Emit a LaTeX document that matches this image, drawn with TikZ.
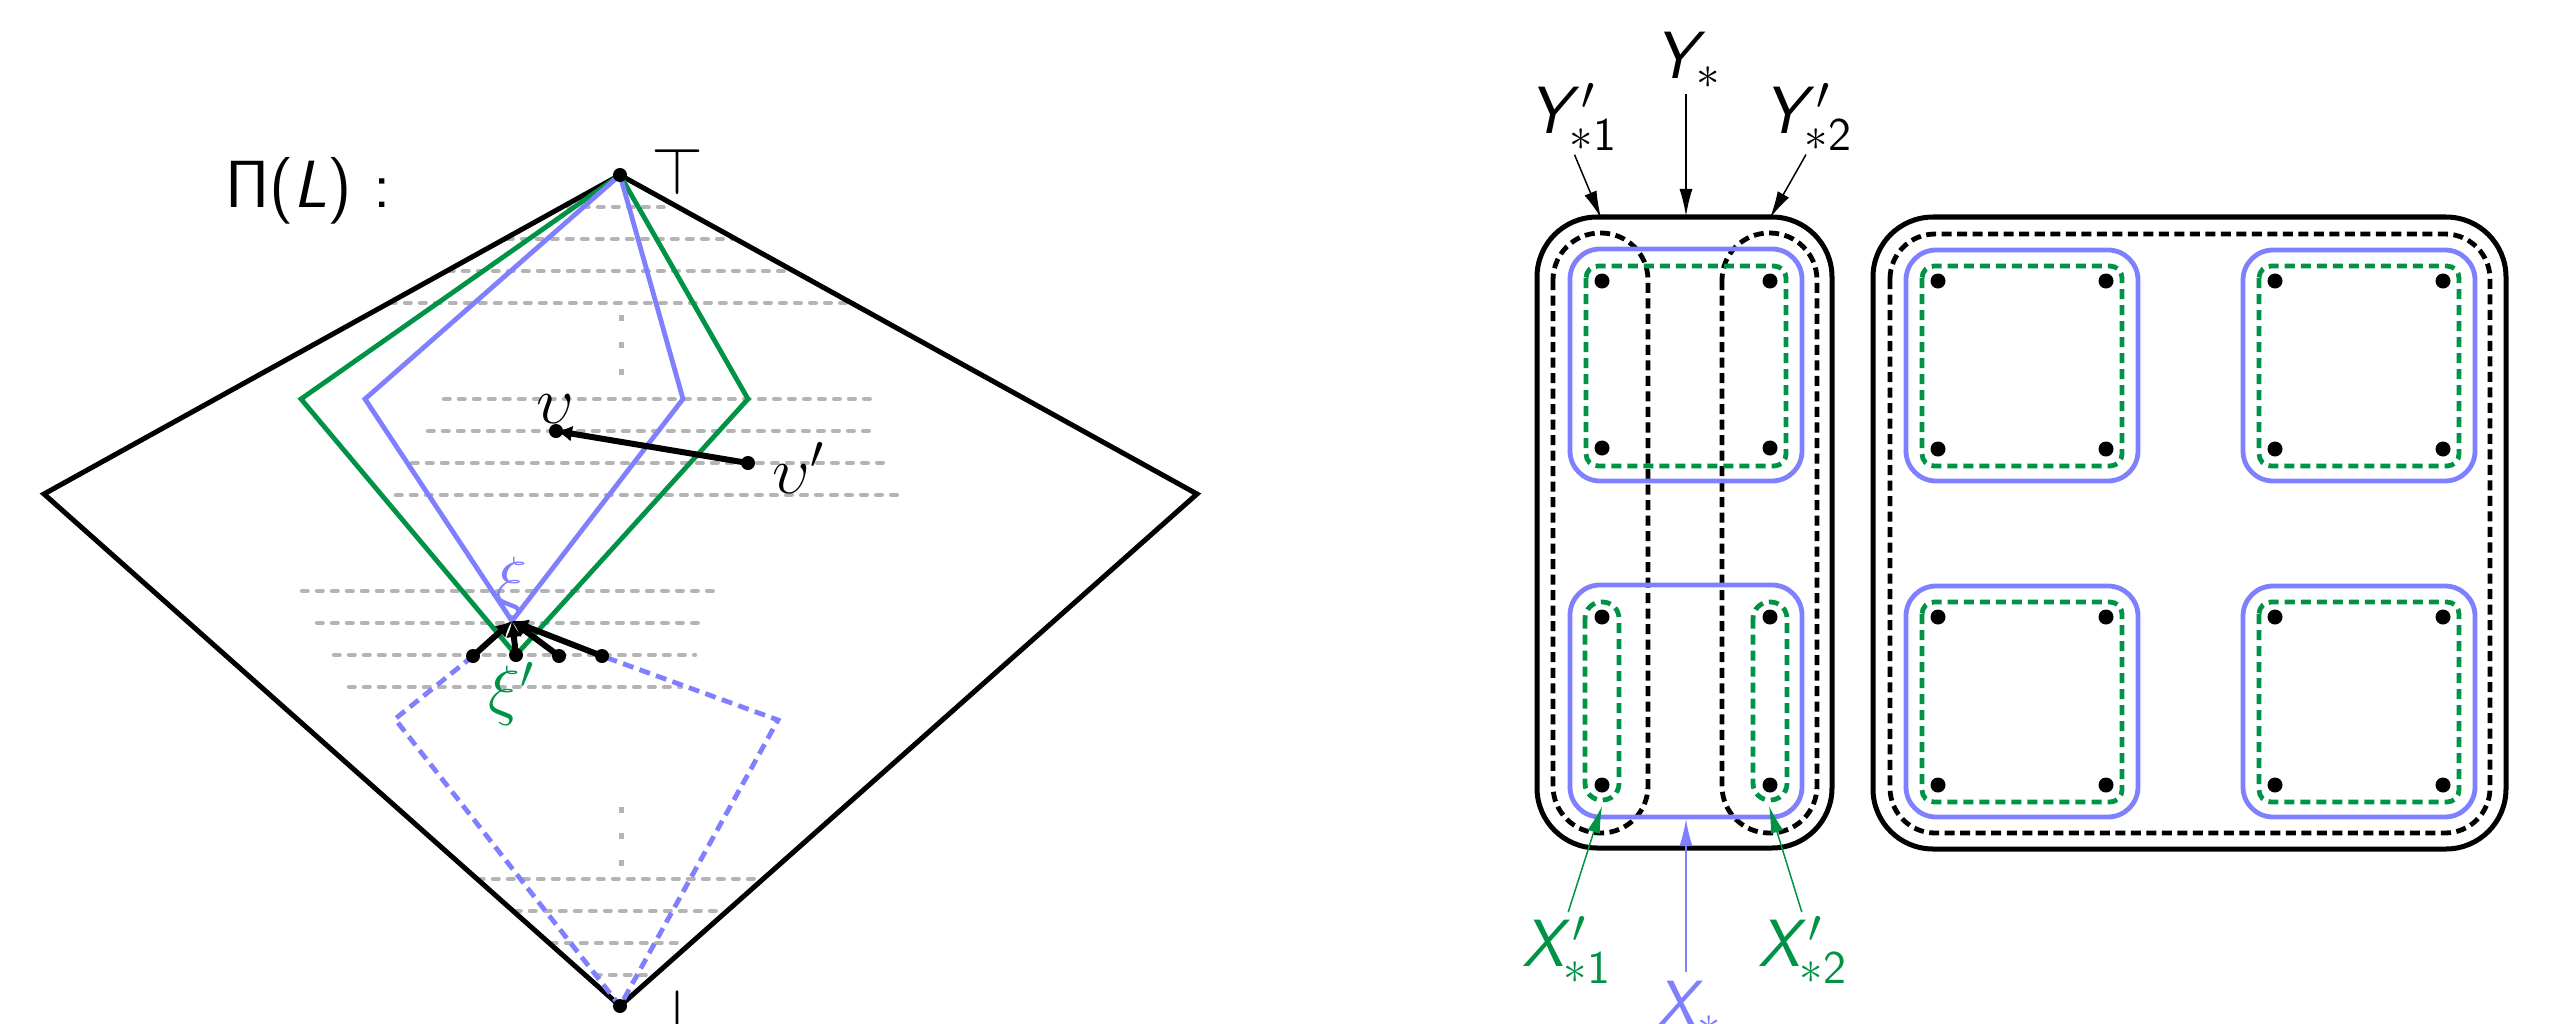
\RequirePackage{fix-cm}
\documentclass[tikz,border=0pt]{standalone}
\usetikzlibrary{arrows.meta}
\DeclareMathAlphabet{\mathsfit}{OT1}{cmss}{m}{sl}
\definecolor{myblue}{RGB}{128,128,255}
\definecolor{mygreen}{RGB}{0,146,69}
\definecolor{lgray}{RGB}{180,180,180}
\tikzset{
  lab/.style={inner sep=0pt, font=\fontsize{19}{23}\selectfont},
  gline/.style={draw=lgray, line width=0.045cm, line cap=round, dash pattern=on 0.055cm off 0.095cm},
  frame/.style={draw=black, line width=0.05cm},
  bsol/.style={draw=myblue, line width=0.048cm},
  gsol/.style={draw=mygreen, line width=0.048cm},
  bdash/.style={draw=myblue, line width=0.048cm, dash pattern=on 0.11cm off 0.065cm},
  kdash/.style={draw=black, line width=0.048cm, dash pattern=on 0.1cm off 0.055cm},
  gdash/.style={draw=mygreen, line width=0.048cm, dash pattern=on 0.1cm off 0.06cm},
  thickarr/.style={draw=black, line width=0.06cm, -{Latex[length=0.16cm,width=0.16cm]}},
  thinarr/.style={line width=0.015cm, -{Latex[length=0.27cm,width=0.13cm]}}
}
\begin{document}
\begin{tikzpicture}[x=0.01cm,y=-0.01cm]
\useasboundingbox (0,0) rectangle (2559,1024);

% ---------------- left diagram ----------------
\coordinate (T) at (620,175);
\coordinate (L) at (44,494);
\coordinate (B) at (620,1006);
\coordinate (R) at (1197,494);
\coordinate (gL) at (301,399);
\coordinate (gR) at (748,399);
\coordinate (xip) at (516,655);
\coordinate (bL) at (365,399);
\coordinate (bR) at (683,399);
\coordinate (xi) at (512,621);
\coordinate (dL) at (395,719);
\coordinate (dR) at (778,720);
\coordinate (p1) at (473,656);
\coordinate (p3) at (559,656);
\coordinate (p4) at (602,656);
\coordinate (v) at (556,431);
\coordinate (vp) at (748,463);

% gray levels
\foreach \y/\a/\b in {207/568/670, 239/507/733, 271/448/792, 303/390/850,
                      399/444/872, 431/428/872, 463/412/888, 495/396/904,
                      591/302/714, 623/317/704, 655/334/695, 687/349/681,
                      879/478/758, 911/515/725, 943/551/685, 975/595/652}
  \draw[gline] (\a,\y) -- (\b,\y);
\foreach \y in {318,345,372,810,836,863}
  \draw[lgray, line width=0.05cm] (621,\y-3) -- (621,\y+3);

\draw[frame] (T) -- (R) -- (B) -- (L) -- cycle;
\draw[bdash] (p1) -- (dL) -- (B) -- (dR) -- (p4);
\draw[gsol] (T) -- (gL) -- (xip) -- (gR) -- cycle;
\draw[bsol] (T) -- (bL) -- (xi) -- (bR) -- cycle;

\draw[thickarr] (vp) -- (v);
\foreach \p in {p1,xip,p3,p4} \draw[thickarr] (\p) -- (xi);
\foreach \p in {T,B,v,vp,p1,xip,p3,p4} \fill (\p) circle[radius=0.07cm];

\node[lab] (PiL) at (308,191) {\textsf{$\mathsf{\Pi}$(\textit{L})~:}};
\node[lab] (toplab) at (677,171) {$\top$};
\node[lab] (botlab) at (677,1012) {$\bot$};
\node[lab] (vlab) at (555,409) {$\upsilon$};
\node[lab, anchor=west] (vplab) at (772,468) {$\upsilon'$};
\node[lab, text=myblue] (xilab) at (511,587) {$\xi$};
\node[lab, text=mygreen] (xiplab) at (512,694) {$\xi'$};

% ---------------- right diagram ----------------
% left box
\draw[frame, rounded corners=0.6cm] (1537,217) rectangle (1832,848);
\draw[kdash, rounded corners=0.47cm] (1553,233) rectangle (1648,833);
\draw[kdash, rounded corners=0.47cm] (1722,233) rectangle (1817,833);
\draw[bsol, rounded corners=0.3cm] (1570,249) rectangle (1802,481);
\draw[bsol, rounded corners=0.3cm] (1570,585) rectangle (1802,817);
\draw[gdash, rounded corners=0.12cm] (1586,266) rectangle (1786,466);
\draw[gdash, rounded corners=0.165cm] (1585,602) rectangle (1619,800);
\draw[gdash, rounded corners=0.165cm] (1753,602) rectangle (1787,800);
\foreach \x in {1602,1770} \foreach \y in {281,448,617,785}
  \fill (\x,\y) circle[radius=0.075cm];

% right box
\draw[frame, rounded corners=0.6cm] (1873,217) rectangle (2506,849);
\draw[kdash, rounded corners=0.45cm] (1890,234) rectangle (2490,833);
\foreach \bx in {1906,2243} \foreach \by in {250,586} {
  \draw[bsol, rounded corners=0.3cm] (\bx,\by) rectangle (\bx+232,\by+231);
  \draw[gdash, rounded corners=0.12cm] (\bx+16,\by+16) rectangle (\bx+216,\by+216);
  \foreach \dx in {32,200} \foreach \dy in {31,199}
    \fill (\bx+\dx,\by+\dy) circle[radius=0.075cm];
}

% labels and pointers
\coordinate (ysT) at (1686,216);
\coordinate (y1T) at (1601,218);
\coordinate (y2T) at (1770,218);
\coordinate (x1T) at (1602,806);
\coordinate (x2T) at (1769,806);
\coordinate (xsT) at (1686,819);

\node[lab] (ys) at (1688,60) {$\mathsfit{Y}_{*}$};
\node[lab] (y1) at (1573,117) {$\mathsfit{Y}'_{*\mathsf{1}}$};
\node[lab] (y2) at (1808,117) {$\mathsfit{Y}'_{*\mathsf{2}}$};
\node[lab, text=mygreen] (x1) at (1567,950) {$\mathsfit{X}'_{*\mathsf{1}}$};
\node[lab, text=mygreen] (x2) at (1803,950) {$\mathsfit{X}'_{*\mathsf{2}}$};
\node[lab, text=myblue, anchor=north west] (xs) at (1655,980) {$\mathsfit{X}_{*}$};

\draw[thinarr, shorten <=0.05cm] (ys.south -| ysT) -- (ysT);
\draw[thinarr, shorten <=0.04cm] (y1.south) -- (y1T);
\draw[thinarr, shorten <=0.04cm] (y2.south) -- (y2T);
\draw[thinarr, mygreen, shorten <=0.04cm] (x1.north) -- (x1T);
\draw[thinarr, mygreen, shorten <=0.04cm] (x2.north) -- (x2T);
\draw[thinarr, myblue, shorten <=0.08cm] (xs.north -| xsT) -- (xsT);
\end{tikzpicture}
\end{document}
